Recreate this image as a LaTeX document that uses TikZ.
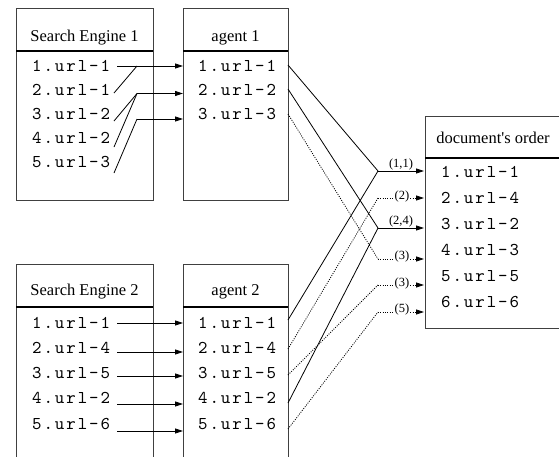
\documentclass[tikz,border=0pt]{standalone}
\usepackage{fontspec}
\setmainfont{Liberation Serif}
\newfontfamily\monof[LetterSpace=10.8]{lmmono10-regular.otf}
\usetikzlibrary{arrows.meta}
\newcommand\monotxt{\monof\fontsize{18}{18}\selectfont}
\begin{document}
\begin{tikzpicture}[x=1pt,y=-1pt,
  boxline/.style={draw=black!75,line width=0.9pt},
  hdrline/.style={draw=black,line width=1.6pt},
  hdr/.style={anchor=base,inner sep=0pt,font=\fontsize{16.5}{16.5}\selectfont},
  item/.style={anchor=base west,inner sep=0pt,font=\monotxt},
  conn/.style={draw=black,line width=0.8pt},
  dotc/.style={draw=black,line width=0.8pt,dash pattern=on 1pt off 1.3pt},
  tip/.style={-{Triangle[length=8pt,width=5pt]}},
  lab/.style={inner sep=0.6pt,fill=white,font=\fontsize{12.5}{12.5}\selectfont}]
\useasboundingbox (0,0) rectangle (559,456);
\clip (0,0) rectangle (559,456);
% boxes
\draw[boxline] (16,8) rectangle (153,200);
\draw[hdrline] (16,51) -- (153,51);
\draw[boxline] (183,8) rectangle (288,200);
\draw[hdrline] (183,51) -- (288,51);
\draw[boxline] (16,264) rectangle (153,480);
\draw[hdrline] (16,307) -- (153,307);
\draw[boxline] (183,264) rectangle (288,480);
\draw[hdrline] (183,307) -- (288,307);
\draw[boxline] (425,116) rectangle (570,328);
\draw[hdrline] (425,158) -- (570,158);
% headers
\node[hdr] (h1) at (84.5,41.5) {Search Engine 1};
\node[hdr] (ha1) at (235.5,41.5) {agent 1};
\node[hdr] (h2) at (84.5,295) {Search Engine 2};
\node[hdr] (ha2) at (235.5,295) {agent 2};
\node[hdr] (hd) at (493,143.3) {document\textquotesingle s order};
% SE1 items
\node[item] (s11) at (32,71) {1.url-1};
\node[item] (s12) at (32,95) {2.url-1};
\node[item] (s13) at (32,119) {3.url-2};
\node[item] (s14) at (32,143) {4.url-2};
\node[item] (s15) at (32,167) {5.url-3};
% agent1 items
\node[item] (a11) at (198,71) {1.url-1};
\node[item] (a12) at (198,95) {2.url-2};
\node[item] (a13) at (198,119) {3.url-3};
% SE2 items
\node[item] (s21) at (32,328.5) {1.url-1};
\node[item] (s22) at (32,353.5) {2.url-4};
\node[item] (s23) at (32,378.5) {3.url-5};
\node[item] (s24) at (32,403.5) {4.url-2};
\node[item] (s25) at (32,429.5) {5.url-6};
% agent2 items
\node[item] (a21) at (198,328.5) {1.url-1};
\node[item] (a22) at (198,353.5) {2.url-4};
\node[item] (a23) at (198,378.5) {3.url-5};
\node[item] (a24) at (198,403.5) {4.url-2};
\node[item] (a25) at (198,429.5) {5.url-6};
% doc items
\node[item] (d1) at (441,177.5) {1.url-1};
\node[item] (d2) at (441,203.5) {2.url-4};
\node[item] (d3) at (441,229.5) {3.url-2};
\node[item] (d4) at (441,255.5) {4.url-3};
\node[item] (d5) at (441,281.5) {5.url-5};
\node[item] (d6) at (441,307.5) {6.url-6};
% coordinates SE1 -> agent1
\coordinate (p11) at (117,66);
\coordinate (p12) at (114,93);
\coordinate (p13) at (114,121);
\coordinate (p14) at (114,147);
\coordinate (p15) at (114,173);
\coordinate (k1) at (137,66);
\coordinate (k2) at (137,93.5);
\coordinate (k3) at (137,119);
\coordinate (t1) at (183,66);
\coordinate (t2) at (183,93.5);
\coordinate (t3) at (183,119);
\draw[conn,tip] (p11) -- (t1);
\draw[conn] (p12) -- (k1);
\draw[conn,tip] (k2) -- (t2);
\draw[conn] (p13) -- (k2);
\draw[conn] (p14) -- (k2);
\draw[conn,tip] (k3) -- (t3);
\draw[conn] (p15) -- (k3);
% SE2 -> agent2
\foreach \i/\y in {1/323,2/352,3/376,4/404,5/431}{
  \coordinate (q\i) at (117,\y);
  \coordinate (u\i) at (183,\y);
  \draw[conn,tip] (q\i) -- (u\i);
}
% agent right-side starts
\coordinate (r11) at (288,65);
\coordinate (r12) at (288,89);
\coordinate (r13) at (288,114);
\coordinate (r21) at (288,320);
\coordinate (r22) at (288,349);
\coordinate (r23) at (288,375);
\coordinate (r24) at (288,403);
\coordinate (r25) at (288,429);
% junctions and tips
\foreach \i/\y in {1/171,2/198,3/228,4/259,5/285,6/312}{
  \coordinate (j\i) at (378,\y);
  \coordinate (e\i) at (424,\y);
}
\draw[conn] (r11) -- (j1);
\draw[conn] (r21) -- (j1);
\draw[conn] (r12) -- (j3);
\draw[conn] (r24) -- (j3);
\draw[dotc] (r13) -- (j4);
\draw[dotc] (r22) -- (j2);
\draw[dotc] (r23) -- (j5);
\draw[dotc] (r25) -- (j6);
\draw[conn,tip] (j1) -- (e1);
\draw[conn,tip] (j3) -- (e3);
\draw[dotc,tip] (j2) -- (e2);
\draw[dotc,tip] (j4) -- (e4);
\draw[dotc,tip] (j5) -- (e5);
\draw[dotc,tip] (j6) -- (e6);
% labels
\node[lab] (l1) at (401,164.5) {(1,1)};
\node[lab] (l2) at (402,196.5) {(2)};
\node[lab] (l3) at (401,221.5) {(2,4)};
\node[lab] (l4) at (402,256.5) {(3)};
\node[lab] (l5) at (402,283) {(3)};
\node[lab] (l6) at (402,309.5) {(5)};
\end{tikzpicture}
\end{document}
